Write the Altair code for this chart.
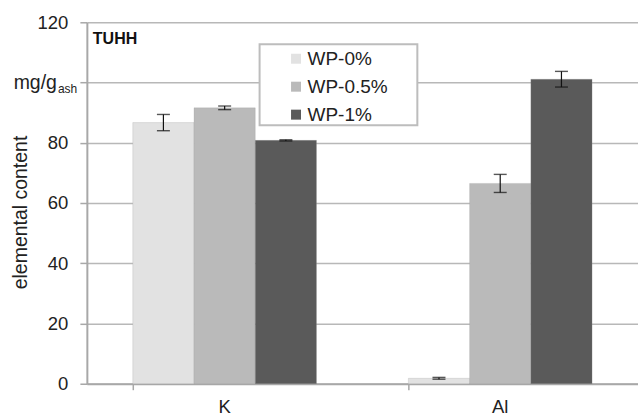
import altair as alt
import pandas as pd

# Elemental content of ash, by element and additive level
elements = ["K", "Al"]
series = ["WP-0%", "WP-0.5%", "WP-1%"]
colors = ["#e2e2e2", "#bababa", "#5a5a5a"]
values = {
    "WP-0%": [86.7, 1.8],
    "WP-0.5%": [91.6, 66.5],
    "WP-1%": [80.8, 101.1],
}
errors = {
    "WP-0%": [2.7, 0.3],
    "WP-0.5%": [0.6, 3.0],
    "WP-1%": [0.2, 2.6],
}
y_ticks = [0, 20, 40, 60, 80, 100, 120]

rows = []
for s in series:
    for i, el in enumerate(elements):
        v, e = values[s][i], errors[s][i]
        rows.append({"element": el, "series": s, "value": v, "lo": v - e, "hi": v + e})
df = pd.DataFrame(rows)

font = "Liberation Sans"
text_color = "#222222"
grid_color = "#b8b8b8"
axis_color = "#a8a8a8"

x_enc = alt.X(
    "element:N",
    sort=elements,
    scale=alt.Scale(paddingInner=1 / 3, paddingOuter=1 / 6),
    axis=alt.Axis(
        title=None,
        bandPosition=0,
        labelAngle=0,
        labelFontSize=18.5,
        labelFont=font,
        labelColor=text_color,
        labelPadding=8,
        tickSize=6,
        tickColor=axis_color,
        tickWidth=1.5,
        domainColor=axis_color,
        domainWidth=2,
        grid=False,
    ),
)
x_off = alt.XOffset("series:N", sort=series, scale=alt.Scale(paddingInner=0, paddingOuter=0))
y_scale = alt.Scale(domain=[0, 120], nice=False)

bars = alt.Chart(df).mark_bar(stroke="#9a9a9a", strokeWidth=0.4, strokeOpacity=0.6).encode(
    x=x_enc,
    xOffset=x_off,
    y=alt.Y(
        "value:Q",
        scale=y_scale,
        axis=alt.Axis(
            title="elemental content",
            titleFont=font,
            titleFontSize=19.5,
            titleFontWeight="normal",
            titleColor=text_color,
            titleX=-66,
            titleY=190,
            titleAngle=-90,
            titleAlign="center",
            titleBaseline="middle",
            values=y_ticks,
            labelExpr="datum.value == 100 ? '' : datum.label",
            labelFont=font,
            labelFontSize=18.5,
            labelColor=text_color,
            labelPadding=12,
            tickSize=7,
            tickColor=axis_color,
            tickWidth=1.5,
            domainColor=axis_color,
            domainWidth=2,
            gridColor=grid_color,
            gridWidth=1.5,
        ),
    ),
    color=alt.Color(
        "series:N",
        sort=series,
        scale=alt.Scale(domain=series, range=colors),
        legend=alt.Legend(
            title=None,
            orient="none",
            legendX=173,
            legendY=22,
            direction="vertical",
            symbolType="square",
            symbolSize=100,
            symbolStrokeWidth=0,
            symbolOffset=22,
            labelOffset=2,
            labelFont=font,
            labelFontSize=19,
            labelColor=text_color,
            rowPadding=8,
            padding=5,
        ),
    ),
)

# white frame behind the legend entries
legend_frame = alt.Chart(pd.DataFrame({"k": [0]})).mark_rect(
    fill="white", stroke="#bdbdbd", strokeWidth=2
).encode(x=alt.value(173), x2=alt.value(331), y=alt.value(22), y2=alt.value(103))

err_rule = alt.Chart(df).mark_rule(color="#111111", strokeWidth=1.2).encode(
    x=alt.X("element:N", sort=elements),
    xOffset=x_off,
    y="lo:Q",
    y2="hi:Q",
)
err_lo = alt.Chart(df).mark_tick(color="#111111", thickness=1.4, size=13, orient="horizontal").encode(
    x=alt.X("element:N", sort=elements),
    xOffset=x_off,
    y="lo:Q",
)
err_hi = alt.Chart(df).mark_tick(color="#111111", thickness=1.4, size=13, orient="horizontal").encode(
    x=alt.X("element:N", sort=elements),
    xOffset=x_off,
    y="hi:Q",
)

label_src = alt.Chart(pd.DataFrame({"v": [100]}))
unit_main = label_src.mark_text(
    text="mg/g", font=font, fontSize=19.5, color=text_color, align="right", baseline="middle"
).encode(x=alt.value(-30), y=alt.Y("v:Q", scale=y_scale))
unit_sub = label_src.mark_text(
    text="ash", font=font, fontSize=12, color=text_color, align="left", baseline="middle", dy=6
).encode(x=alt.value(-29), y=alt.Y("v:Q", scale=y_scale))

site = alt.Chart(pd.DataFrame({"t": ["TUHH"]})).mark_text(
    font=font, fontSize=16, fontWeight="bold", color="#111111", align="left", baseline="middle"
).encode(text="t:N", x=alt.value(6), y=alt.value(17))

chart = (
    alt.layer(bars, legend_frame, err_rule, err_lo, err_hi, unit_main, unit_sub, site)
    .resolve_scale(y="shared")
    .properties(
        width=552,
        height=362,
        autosize=alt.AutoSizeParams(type="none"),
        padding={"left": 87, "top": 22, "right": 0, "bottom": 33},
        background="white",
    )
    .configure_view(stroke=None)
)

chart.save("out.html", embed_options={"renderer": "svg", "actions": False})
